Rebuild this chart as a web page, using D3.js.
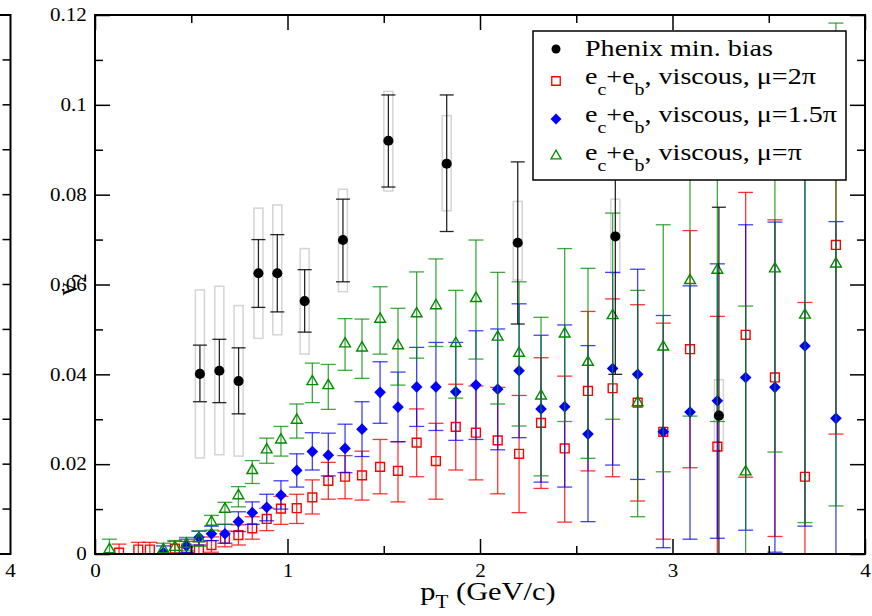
<!DOCTYPE html>
<html>
<head>
<meta charset="utf-8">
<script src="https://cdn.jsdelivr.net/npm/d3@7/dist/d3.min.js"></script>
<style>
  body { margin: 0; background: #fff; }
</style>
</head>
<body>
<div id="chart"></div>
<script>
// PHENIX minimum bias data (value, stat error ends, systematic box ends)
const phenixPt    = [0.545, 0.646, 0.746, 0.849, 0.947, 1.089, 1.288, 1.524, 1.827, 2.196, 2.703, 3.241];
const phenixV2    = [0.0401, 0.0408, 0.0385, 0.0625, 0.0625, 0.0563, 0.0699, 0.0920, 0.0869, 0.0693, 0.0707, 0.0308];
const phenixStatHi = [0.0465, 0.0478, 0.0459, 0.0700, 0.0711, 0.0633, 0.0790, 0.1022, 0.1022, 0.0873, 0.1010, 0.0772];
const phenixStatLo = [0.0339, 0.0337, 0.0312, 0.0549, 0.0539, 0.0494, 0.0606, 0.0817, 0.0718, 0.0512, 0.0400, -0.0156];
const phenixSysHi  = [0.0588, 0.0596, 0.0553, 0.0770, 0.0777, 0.0680, 0.0812, 0.1030, 0.0976, 0.0785, 0.0790, 0.0388];
const phenixSysLo  = [0.0214, 0.0221, 0.0218, 0.0480, 0.0488, 0.0445, 0.0584, 0.0808, 0.0764, 0.0610, 0.0625, 0.0230];

// e_c+e_b viscous, mu = 2 pi (red squares)
const redPt = [0.125, 0.225, 0.285, 0.415, 0.475, 0.54, 0.605, 0.675, 0.745, 0.817, 0.892, 0.966, 1.048, 1.129, 1.212,
  1.299, 1.387, 1.481, 1.574, 1.671, 1.771, 1.874, 1.979, 2.092, 2.203, 2.317, 2.44, 2.561, 2.689, 2.819, 2.952,
  3.091, 3.233, 3.38, 3.532, 3.688, 3.849];
const redV2 = [0.0003, 0.001, 0.001, 0.0012, 0.0012, 0.001, 0.002, 0.0034, 0.0042, 0.0057, 0.0078, 0.0101, 0.0102, 0.0126, 0.0163,
  0.0172, 0.0175, 0.0194, 0.0185, 0.0248, 0.0207, 0.0283, 0.027, 0.0253, 0.0223, 0.0292, 0.0235, 0.0363, 0.0369, 0.0337, 0.0272,
  0.0456, 0.0239, 0.0488, 0.0393, 0.0172, 0.0688];
const redHi = [0.0022, 0.0026, 0.0026, 0.0028, 0.0028, 0.0028, 0.0038, 0.0051, 0.0065, 0.0083, 0.0102, 0.0128, 0.0133, 0.0165, 0.0204,
  0.0219, 0.0229, 0.0255, 0.025, 0.0323, 0.0291, 0.0378, 0.0374, 0.0371, 0.0353, 0.0437, 0.0396, 0.054, 0.0568, 0.0555, 0.0514,
  0.072, 0.0529, 0.0805, 0.0744, 0.056, 0.111];
const redLo = [-0.0016, -0.0006, -0.0006, -0.0004, -0.0004, -0.0006, 0.0004, 0.0016, 0.002, 0.0033, 0.0052, 0.0066, 0.0068, 0.0089, 0.0122,
  0.0123, 0.012, 0.0134, 0.0116, 0.0172, 0.0122, 0.0187, 0.0165, 0.0134, 0.0092, 0.0146, 0.0071, 0.0185, 0.0172, 0.0118, 0.0033,
  0.0192, -0.005, 0.0171, 0.0039, -0.022, 0.0267];

// mu = 1.5 pi (blue diamonds)
const bluePt = [0.355, 0.475, 0.54, 0.605, 0.675, 0.745, 0.817, 0.892, 0.966, 1.048, 1.129, 1.212, 1.299, 1.387, 1.481,
  1.574, 1.671, 1.771, 1.874, 1.979, 2.092, 2.203, 2.317, 2.44, 2.561, 2.689, 2.819, 2.952, 3.091, 3.233, 3.38,
  3.532, 3.688, 3.849];
const blueV2 = [0.0003, 0.0018, 0.0037, 0.0045, 0.0045, 0.0072, 0.0092, 0.0104, 0.0131, 0.0186, 0.0228, 0.022, 0.0235, 0.0278, 0.036,
  0.0327, 0.0372, 0.0372, 0.0361, 0.0376, 0.0367, 0.0408, 0.0323, 0.0328, 0.0267, 0.0413, 0.04, 0.0272, 0.0316, 0.0341, 0.0393,
  0.0371, 0.0463, 0.0302];
const blueHi = [0.0018, 0.0033, 0.0051, 0.0062, 0.0066, 0.0094, 0.0116, 0.0133, 0.0163, 0.0223, 0.027, 0.0269, 0.0289, 0.0339, 0.0428,
  0.0405, 0.046, 0.0471, 0.0471, 0.0497, 0.0501, 0.0557, 0.0487, 0.051, 0.0464, 0.0627, 0.0634, 0.0531, 0.0597, 0.0646, 0.0733,
  0.0739, 0.0864, 0.074];
const blueLo = [-0.0012, 0.0003, 0.002, 0.003, 0.0024, 0.005, 0.0066, 0.0074, 0.01, 0.0149, 0.0187, 0.0174, 0.0181, 0.0217, 0.0291,
  0.025, 0.0284, 0.0275, 0.0253, 0.0255, 0.0232, 0.0259, 0.016, 0.0149, 0.0072, 0.0198, 0.0166, 0.0014, 0.0033, 0.0035, 0.0053,
  0.0004, 0.0062, -0.014];

// mu = pi (green triangles)
const greenPt = [0.075, 0.355, 0.415, 0.475, 0.54, 0.605, 0.675, 0.745, 0.817, 0.892, 0.966, 1.048, 1.129, 1.212, 1.299,
  1.387, 1.481, 1.574, 1.671, 1.771, 1.874, 1.979, 2.092, 2.203, 2.317, 2.44, 2.561, 2.689, 2.819, 2.952, 3.091,
  3.233, 3.38, 3.532, 3.688, 3.849];
const greenV2 = [0.001, 0.001, 0.0015, 0.0022, 0.0034, 0.0071, 0.01, 0.013, 0.0186, 0.0232, 0.0254, 0.0298, 0.0384, 0.0375, 0.0468,
  0.0459, 0.0523, 0.0464, 0.0535, 0.0553, 0.0469, 0.0569, 0.0483, 0.0447, 0.0352, 0.049, 0.0427, 0.0531, 0.0337, 0.0461, 0.0609,
  0.0632, 0.0183, 0.0635, 0.0532, 0.0646];
const greenHi = [0.0033, 0.0024, 0.003, 0.0037, 0.0051, 0.0086, 0.0115, 0.015, 0.0208, 0.0258, 0.0284, 0.0334, 0.0425, 0.0422, 0.0524,
  0.0523, 0.0595, 0.0547, 0.0628, 0.0657, 0.0587, 0.0699, 0.0627, 0.0606, 0.0527, 0.068, 0.0636, 0.0759, 0.0587, 0.0733, 0.0911,
  0.0969, 0.0552, 0.1043, 0.0994, 0.1182];
const greenLo = [-0.0013, -0.0004, 0.0, 0.0007, 0.0017, 0.0053, 0.0066, 0.0105, 0.0157, 0.0202, 0.0218, 0.0258, 0.0337, 0.0322, 0.0409,
  0.0391, 0.0445, 0.0376, 0.0436, 0.0462, 0.0347, 0.0434, 0.0334, 0.0285, 0.0174, 0.0295, 0.0213, 0.03, 0.0083, 0.0183, 0.0307,
  0.0295, -0.0186, 0.0227, 0.007, 0.0107];

const xMajor = [0, 1, 2, 3, 4];
const xMinor = [0.5, 1.5, 2.5, 3.5];
const yMajor = [0, 0.02, 0.04, 0.06, 0.08, 0.1, 0.12];
const yMinor = [0.01, 0.03, 0.05, 0.07, 0.09, 0.11];
const yAll = [0, 0.01, 0.02, 0.03, 0.04, 0.05, 0.06, 0.07, 0.08, 0.09, 0.1, 0.11, 0.12];

const legendLabels = ["Phenix min. bias", "2\u03C0", "1.5\u03C0", "\u03C0"];

////////////////////////////////////////////
// layout
const width = 872, height = 616;
const plot = { left: 95, right: 865, top: 15, bottom: 554 };
const sx = 1.17; // glyphs in the picture are a bit wider than normal
const serif = "'Liberation Serif', 'Times New Roman', Tinos, Times, 'DejaVu Serif', serif";

const svg = d3.select("#chart").append("svg")
  .attr("width", width)
  .attr("height", height)
  .attr("font-family", serif);

const x = d3.scaleLinear().domain([0, 4]).range([plot.left, plot.right]);
const y = d3.scaleLinear().domain([0, 0.12]).range([plot.bottom, plot.top]);

svg.append("clipPath").attr("id", "clip")
  .append("rect")
  .attr("x", plot.left).attr("y", plot.top)
  .attr("width", plot.right - plot.left).attr("height", plot.bottom - plot.top);

const data = svg.append("g").attr("clip-path", "url(#clip)");

// systematic boxes
data.selectAll(".sys")
  .data(phenixPt)
  .enter().append("rect")
  .attr("x", d => x(d) - 4.5)
  .attr("y", (d, i) => y(phenixSysHi[i]))
  .attr("width", 9)
  .attr("height", (d, i) => y(phenixSysLo[i]) - y(phenixSysHi[i]))
  .attr("fill", "none")
  .attr("stroke", "#d4d4d4")
  .attr("stroke-width", 1.5);

function errorBars(g, pts, his, los, color, capW, opacity) {
  const eb = g.append("g")
    .attr("stroke", color)
    .attr("stroke-width", 1.3)
    .attr("stroke-opacity", opacity);
  pts.forEach((p, i) => {
    eb.append("line")
      .attr("x1", x(p)).attr("x2", x(p))
      .attr("y1", y(his[i])).attr("y2", y(los[i]));
    [his[i], los[i]].forEach(v => {
      eb.append("line")
        .attr("x1", x(p) - capW / 2).attr("x2", x(p) + capW / 2)
        .attr("y1", y(v)).attr("y2", y(v));
    });
  });
}

const symSquare = d3.symbol().type(d3.symbolSquare).size(78);
const symDiamond = d3.symbol().type(d3.symbolSquare).size(68);
const symTriangle = d3.symbol().type(d3.symbolTriangle).size(50);
const symCircle = d3.symbol().type(d3.symbolCircle).size(80);

// red
errorBars(data, redPt, redHi, redLo, "#ff0000", 15, 0.8);
data.append("g").selectAll("path")
  .data(redPt)
  .enter().append("path")
  .attr("d", symSquare)
  .attr("transform", (d, i) => `translate(${x(d)},${y(redV2[i])})`)
  .attr("fill", "none")
  .attr("stroke", "#ff0000")
  .attr("stroke-width", 1.4);

// blue
errorBars(data, bluePt, blueHi, blueLo, "#0000ff", 15, 0.75);
data.append("g").selectAll("path")
  .data(bluePt)
  .enter().append("path")
  .attr("d", symDiamond)
  .attr("transform", (d, i) => `translate(${x(d)},${y(blueV2[i])}) rotate(45)`)
  .attr("fill", "#0000ff");

// green
errorBars(data, greenPt, greenHi, greenLo, "#008b00", 15, 0.75);
data.append("g").selectAll("path")
  .data(greenPt)
  .enter().append("path")
  .attr("d", symTriangle)
  .attr("transform", (d, i) => `translate(${x(d)},${y(greenV2[i])})`)
  .attr("fill", "none")
  .attr("stroke", "#008b00")
  .attr("stroke-width", 1.4);

// phenix
errorBars(data, phenixPt, phenixStatHi, phenixStatLo, "#000", 14, 0.85);
data.append("g").selectAll("path")
  .data(phenixPt)
  .enter().append("path")
  .attr("d", symCircle)
  .attr("transform", (d, i) => `translate(${x(d)},${y(phenixV2[i])})`)
  .attr("fill", "#000");

////////////////////////////////////////////
// axes, ticks pointing inward on all four sides
function styleAxis(g) {
  g.attr("font-family", null);
  g.select(".domain").remove();
  g.selectAll("line").attr("stroke", "#000").attr("stroke-width", 1.5);
}
const yFmt = d => d === 0 ? "0" : String(+d.toFixed(2));

svg.append("g").attr("transform", `translate(0,${plot.bottom})`)
  .call(d3.axisBottom(x).tickValues(xMajor).tickSize(-15).tickPadding(10).tickFormat(d3.format("d")))
  .call(styleAxis);
svg.append("g").attr("transform", `translate(0,${plot.bottom})`)
  .call(d3.axisBottom(x).tickValues(xMinor).tickSize(-8).tickFormat(""))
  .call(styleAxis);
svg.append("g").attr("transform", `translate(0,${plot.top})`)
  .call(d3.axisTop(x).tickValues(xMajor).tickSize(-15).tickFormat(""))
  .call(styleAxis);
svg.append("g").attr("transform", `translate(0,${plot.top})`)
  .call(d3.axisTop(x).tickValues(xMinor).tickSize(-8).tickFormat(""))
  .call(styleAxis);
svg.append("g").attr("transform", `translate(${plot.left},0)`)
  .call(d3.axisLeft(y).tickValues(yMajor).tickSize(-15).tickPadding(7).tickFormat(yFmt))
  .call(styleAxis);
svg.append("g").attr("transform", `translate(${plot.left},0)`)
  .call(d3.axisLeft(y).tickValues(yMinor).tickSize(-8).tickFormat(""))
  .call(styleAxis);
svg.append("g").attr("transform", `translate(${plot.right},0)`)
  .call(d3.axisRight(y).tickValues(yMajor).tickSize(-15).tickFormat(""))
  .call(styleAxis);
svg.append("g").attr("transform", `translate(${plot.right},0)`)
  .call(d3.axisRight(y).tickValues(yMinor).tickSize(-8).tickFormat(""))
  .call(styleAxis);

svg.selectAll(".tick text")
  .attr("font-family", serif)
  .attr("font-size", 18)
  .attr("fill", "#000")
  .attr("transform", `scale(${sx},1)`);

svg.append("rect")
  .attr("x", plot.left).attr("y", plot.top)
  .attr("width", plot.right - plot.left).attr("height", plot.bottom - plot.top)
  .attr("fill", "none").attr("stroke", "#000").attr("stroke-width", 2);

// right edge of the neighbouring panel on the left
const edgeX = 10.5;
svg.append("path")
  .attr("d", `M0,${plot.top}H${edgeX}V${plot.bottom}H0`)
  .attr("fill", "none").attr("stroke", "#000").attr("stroke-width", 2);
svg.append("g").selectAll("line")
  .data(yAll.slice(1, -1))
  .enter().append("line")
  .attr("x1", edgeX - 8).attr("x2", edgeX)
  .attr("y1", d => y(d)).attr("y2", d => y(d))
  .attr("stroke", "#000").attr("stroke-width", 1.5);
svg.append("text")
  .attr("transform", `translate(${edgeX},${plot.bottom + 10}) scale(${sx},1)`)
  .attr("dy", "0.71em")
  .attr("text-anchor", "middle")
  .attr("font-size", 18)
  .text("4");

// axis titles
const xt = svg.append("text")
  .attr("transform", `translate(${(plot.left + plot.right) / 2 + 8},600) scale(${sx},1)`)
  .attr("text-anchor", "middle")
  .attr("font-size", 26);
xt.append("tspan").text("p");
xt.append("tspan").attr("dy", 8).attr("font-size", 18).text("T");
xt.append("tspan").attr("dy", -8).text(" (GeV/c)");

const yt = svg.append("text")
  .attr("transform", `translate(77,${(plot.top + plot.bottom) / 2}) scale(${sx},1) rotate(-90)`)
  .attr("text-anchor", "middle")
  .attr("font-size", 26);
yt.append("tspan").text("v");
yt.append("tspan").attr("dy", 8).attr("font-size", 18).text("2");

////////////////////////////////////////////
// legend
const lg = svg.append("g");
lg.append("rect")
  .attr("x", 533).attr("y", 31).attr("width", 313).attr("height", 149)
  .attr("fill", "#fff").attr("stroke", "#000").attr("stroke-width", 1.5);

const rowY = [56, 84, 122, 160];
const symY = [49, 81, 119, 156];

lg.append("path").attr("d", d3.symbol().type(d3.symbolCircle).size(64))
  .attr("transform", `translate(556,${symY[0]})`).attr("fill", "#000");
lg.append("path").attr("d", d3.symbol().type(d3.symbolSquare).size(72))
  .attr("transform", `translate(556,${symY[1]})`)
  .attr("fill", "none").attr("stroke", "#ff0000").attr("stroke-width", 1.3);
lg.append("path").attr("d", d3.symbol().type(d3.symbolSquare).size(60))
  .attr("transform", `translate(556,${symY[2]}) rotate(45)`).attr("fill", "#0000ff");
lg.append("path").attr("d", d3.symbol().type(d3.symbolTriangle).size(44))
  .attr("transform", `translate(556,${symY[3]})`)
  .attr("fill", "none").attr("stroke", "#008b00").attr("stroke-width", 1.3);

legendLabels.forEach((lab, i) => {
  const t = lg.append("text")
    .attr("transform", `translate(585,${rowY[i]}) scale(${sx},1)`)
    .attr("font-size", 24);
  if (i === 0) {
    t.text(lab);
  } else {
    t.append("tspan").text("e");
    t.append("tspan").attr("dy", 11).attr("font-size", 17).text("c");
    t.append("tspan").attr("dy", -11).text("+e");
    t.append("tspan").attr("dy", 11).attr("font-size", 17).text("b");
    t.append("tspan").attr("dy", -11).text(", viscous, \u03BC=" + lab);
  }
});
</script>
</body>
</html>
